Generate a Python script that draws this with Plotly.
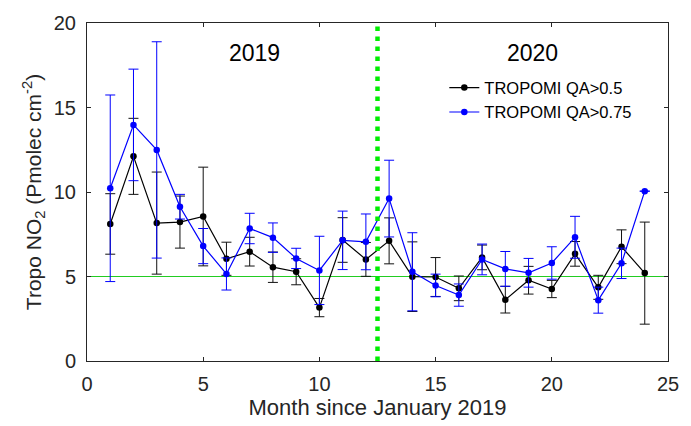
import plotly.graph_objects as go

months = list(range(1, 25))
qa05 = [8.11, 12.11, 8.16, 8.22, 8.55, 6.05, 6.47, 5.55, 5.28, 3.16, 7.16, 6.01,
        7.11, 4.99, 4.97, 4.30, 6.13, 3.63, 4.78, 4.26, 6.34, 4.36, 6.76, 5.20]
qa05_err = [1.79, 2.25, 3.02, 1.54, 2.92, 0.98, 0.85, 0.90, 0.77, 0.54, 1.32, 1.00,
            1.36, 2.06, 1.15, 0.73, 0.73, 0.79, 0.82, 0.51, 0.73, 0.71, 1.00, 3.02]
qa075 = [10.22, 13.97, 12.49, 9.13, 6.80, 5.15, 7.84, 7.30, 6.07, 5.36, 7.14, 7.05,
         9.61, 5.28, 4.47, 3.90, 6.01, 5.45, 5.22, 5.80, 7.32, 3.60, 5.78, 10.05]
qa075_err = [5.52, 3.30, 6.40, 0.73, 1.04, 0.95, 0.90, 0.87, 0.60, 2.02, 1.73, 1.65,
             2.27, 2.31, 0.67, 0.66, 0.91, 1.03, 0.85, 0.96, 1.24, 0.77, 0.90, 0.0]

ref_level = 5
split_month = 12.5
xticks = [0, 5, 10, 15, 20, 25]
yticks = [0, 5, 10, 15, 20]

font = "Liberation Sans, Arial, sans-serif"

fig = go.Figure()
fig.add_trace(go.Scatter(
    x=months, y=qa05, mode="lines+markers", name="TROPOMI QA>0.5",
    line=dict(color="#000000", width=1.2),
    marker=dict(color="#000000", size=6.5),
    error_y=dict(type="data", array=qa05_err, visible=True, color="#111111",
                 thickness=1, width=5),
))
fig.add_trace(go.Scatter(
    x=months, y=qa075, mode="lines+markers", name="TROPOMI QA>0.75",
    line=dict(color="#0000FF", width=1.2),
    marker=dict(color="#0000FF", size=6.5),
    error_y=dict(type="data", array=qa075_err, visible=True, color="#0000FF",
                 thickness=1, width=5),
))

fig.add_shape(type="line", xref="x", yref="y", x0=0, x1=25, y0=ref_level, y1=ref_level,
              line=dict(color="#22cc22", width=1), layer="below")
fig.add_shape(type="line", xref="x", yref="y", x0=split_month, x1=split_month, y0=0, y1=20,
              line=dict(color="#00ee00", width=4.5, dash="4.5px,5.5px"), layer="above")

fig.add_annotation(x=7.2, y=18.25, text="2019", showarrow=False,
                   font=dict(family=font, size=23, color="#000000"))
fig.add_annotation(x=19.15, y=18.25, text="2020", showarrow=False,
                   font=dict(family=font, size=23, color="#000000"))

fig.update_layout(
    width=691, height=426,
    margin=dict(l=87, r=15, t=15, b=65),
    paper_bgcolor="white", plot_bgcolor="white",
    font=dict(family=font, size=20, color="#262626"),
    showlegend=True,
    legend=dict(x=0.615, y=0.86, xanchor="left", yanchor="top",
                bgcolor="rgba(0,0,0,0)", font=dict(family=font, size=16.5, color="#000000"),
                itemwidth=30, tracegroupgap=0),
)
fig.update_xaxes(
    range=[0, 25], tickvals=xticks, ticks="inside", ticklen=4, tickcolor="#262626",
    showline=True, linecolor="#262626", linewidth=1, mirror="ticks",
    showgrid=False, zeroline=False, ticklabelstandoff=5,
    title=dict(text="Month since January 2019", font=dict(size=22, color="#262626"), standoff=4),
    tickfont=dict(size=20, color="#262626"),
)
fig.update_yaxes(
    range=[0, 20], tickvals=yticks, ticks="inside", ticklen=4, tickcolor="#262626",
    showline=True, linecolor="#262626", linewidth=1, mirror="ticks",
    showgrid=False, zeroline=False, ticklabelstandoff=6,
    title=dict(text="Tropo NO<sub>2</sub> (Pmolec cm<sup>-2</sup>)",
               font=dict(size=21, color="#262626"), standoff=6),
    tickfont=dict(size=20, color="#262626"),
)

fig.write_html("out.html")
